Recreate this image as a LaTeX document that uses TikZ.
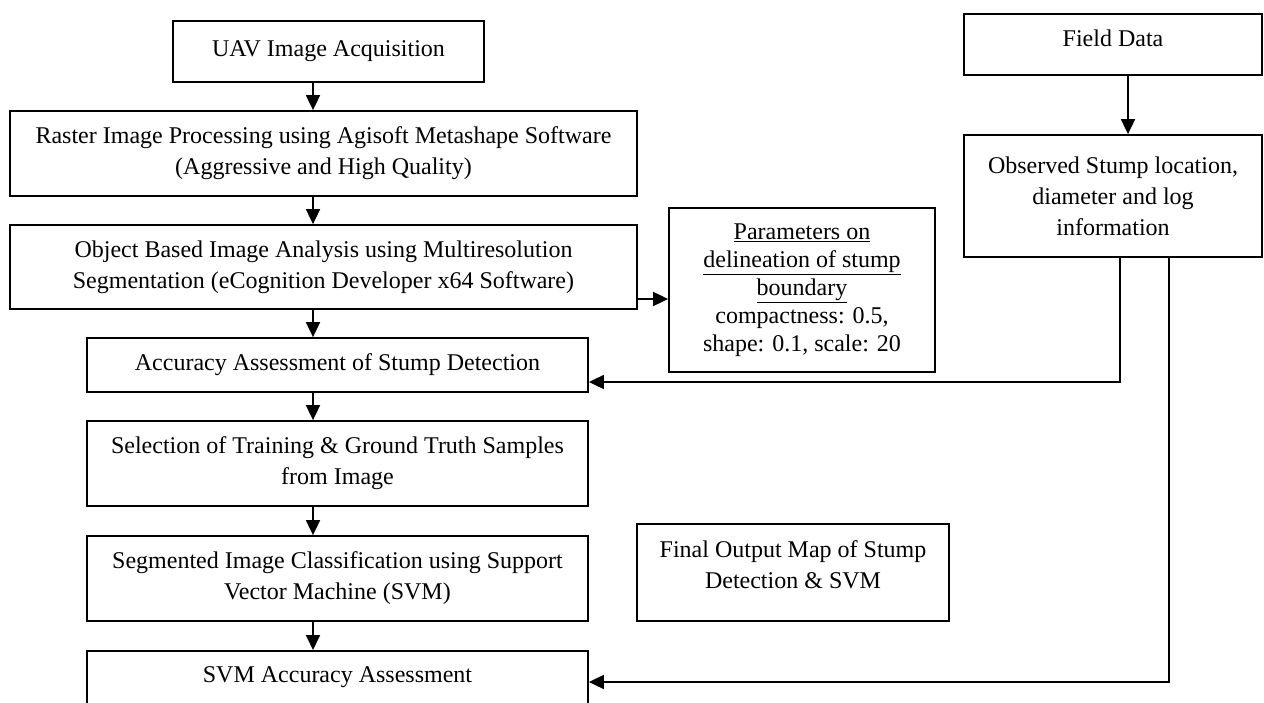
\documentclass[tikz,border=0pt]{standalone}
\usepackage{fontspec}
\setmainfont{Liberation Serif}
\usetikzlibrary{arrows.meta}
\begin{document}
\begin{tikzpicture}[x=1pt,y=-1pt,
  box/.style={draw, line width=1.8pt, align=center, inner sep=0pt,
    font=\fontsize{24}{31}\selectfont},
  arr/.style={line width=1.8pt, -{Triangle[length=15pt,width=14pt]}}]
\useasboundingbox (0,0) rectangle (1264,702);
\clip (0,0) rectangle (1264,702);

\node[box, minimum width=311pt, minimum height=61pt] (uav) at (328.5,51.5) {UAV Image Acquisition};
\node[box, minimum width=627pt, minimum height=85pt] (raster) at (323.5,153.5)
  {Raster Image Processing using Agisoft Metashape Software\\(Aggressive and High Quality)};
\node[box, minimum width=627pt, minimum height=84pt] (obia) at (323.5,267)
  {Object Based Image Analysis using Multiresolution\\Segmentation (eCognition Developer x64 Software)};
\node[box, minimum width=501pt, minimum height=54pt] (acc) at (337.5,365)
  {Accuracy Assessment of Stump Detection};
\node[box, minimum width=501pt, minimum height=85pt] (sel) at (337.5,463.5)
  {Selection of Training \& Ground Truth Samples\\from Image};
\node[box, minimum width=501pt, minimum height=85pt] (seg) at (337.5,578.5)
  {Segmented Image Classification using Support\\Vector Machine (SVM)};
\node[box, anchor=north, minimum width=501pt, text height=32pt, text depth=60pt] (svm) at (337.5,650)
  {SVM Accuracy Assessment};
\node[box, minimum width=266pt, minimum height=164pt, font=\fontsize{24}{28}\selectfont] (params) at (802,290)
  {\underline{Parameters on}\\\underline{delineation of stump}\\\underline{boundary}\\compactness: 0.5,\\shape: 0.1, scale: 20};
\node[box, minimum width=312pt, minimum height=97pt] (final) at (793,572.5)
  {Final Output Map of Stump\\Detection \& SVM\\[-16pt]\mbox{}};
\node[box, minimum width=298pt, minimum height=61pt] (field) at (1113,44.5) {Field Data\\[-19pt]\mbox{}};
\node[box, minimum width=298pt, minimum height=122pt] (obs) at (1113,196)
  {Observed Stump location,\\diameter and log\\information};

\coordinate (ax) at (313,0);
\coordinate (fx) at (1128,0);
\coordinate (pa) at (650,299);
\coordinate (o1) at (1120,382);
\coordinate (o2) at (1169,682);

\draw[arr] (uav.south -| ax) -- (raster.north -| ax);
\draw[arr] (raster.south -| ax) -- (obia.north -| ax);
\draw[arr] (obia.south -| ax) -- (acc.north -| ax);
\draw[arr] (acc.south -| ax) -- (sel.north -| ax);
\draw[arr] (sel.south -| ax) -- (seg.north -| ax);
\draw[arr] (seg.south -| ax) -- (svm.north -| ax);
\draw[arr] (obia.east |- pa) -- (params.west |- pa);
\draw[arr] (field.south -| fx) -- (obs.north -| fx);
\draw[arr] (obs.south -| o1) -- (o1) -- (acc.east |- o1);
\draw[arr] (obs.south -| o2) -- (o2) -- (svm.east |- o2);
\end{tikzpicture}
\end{document}
